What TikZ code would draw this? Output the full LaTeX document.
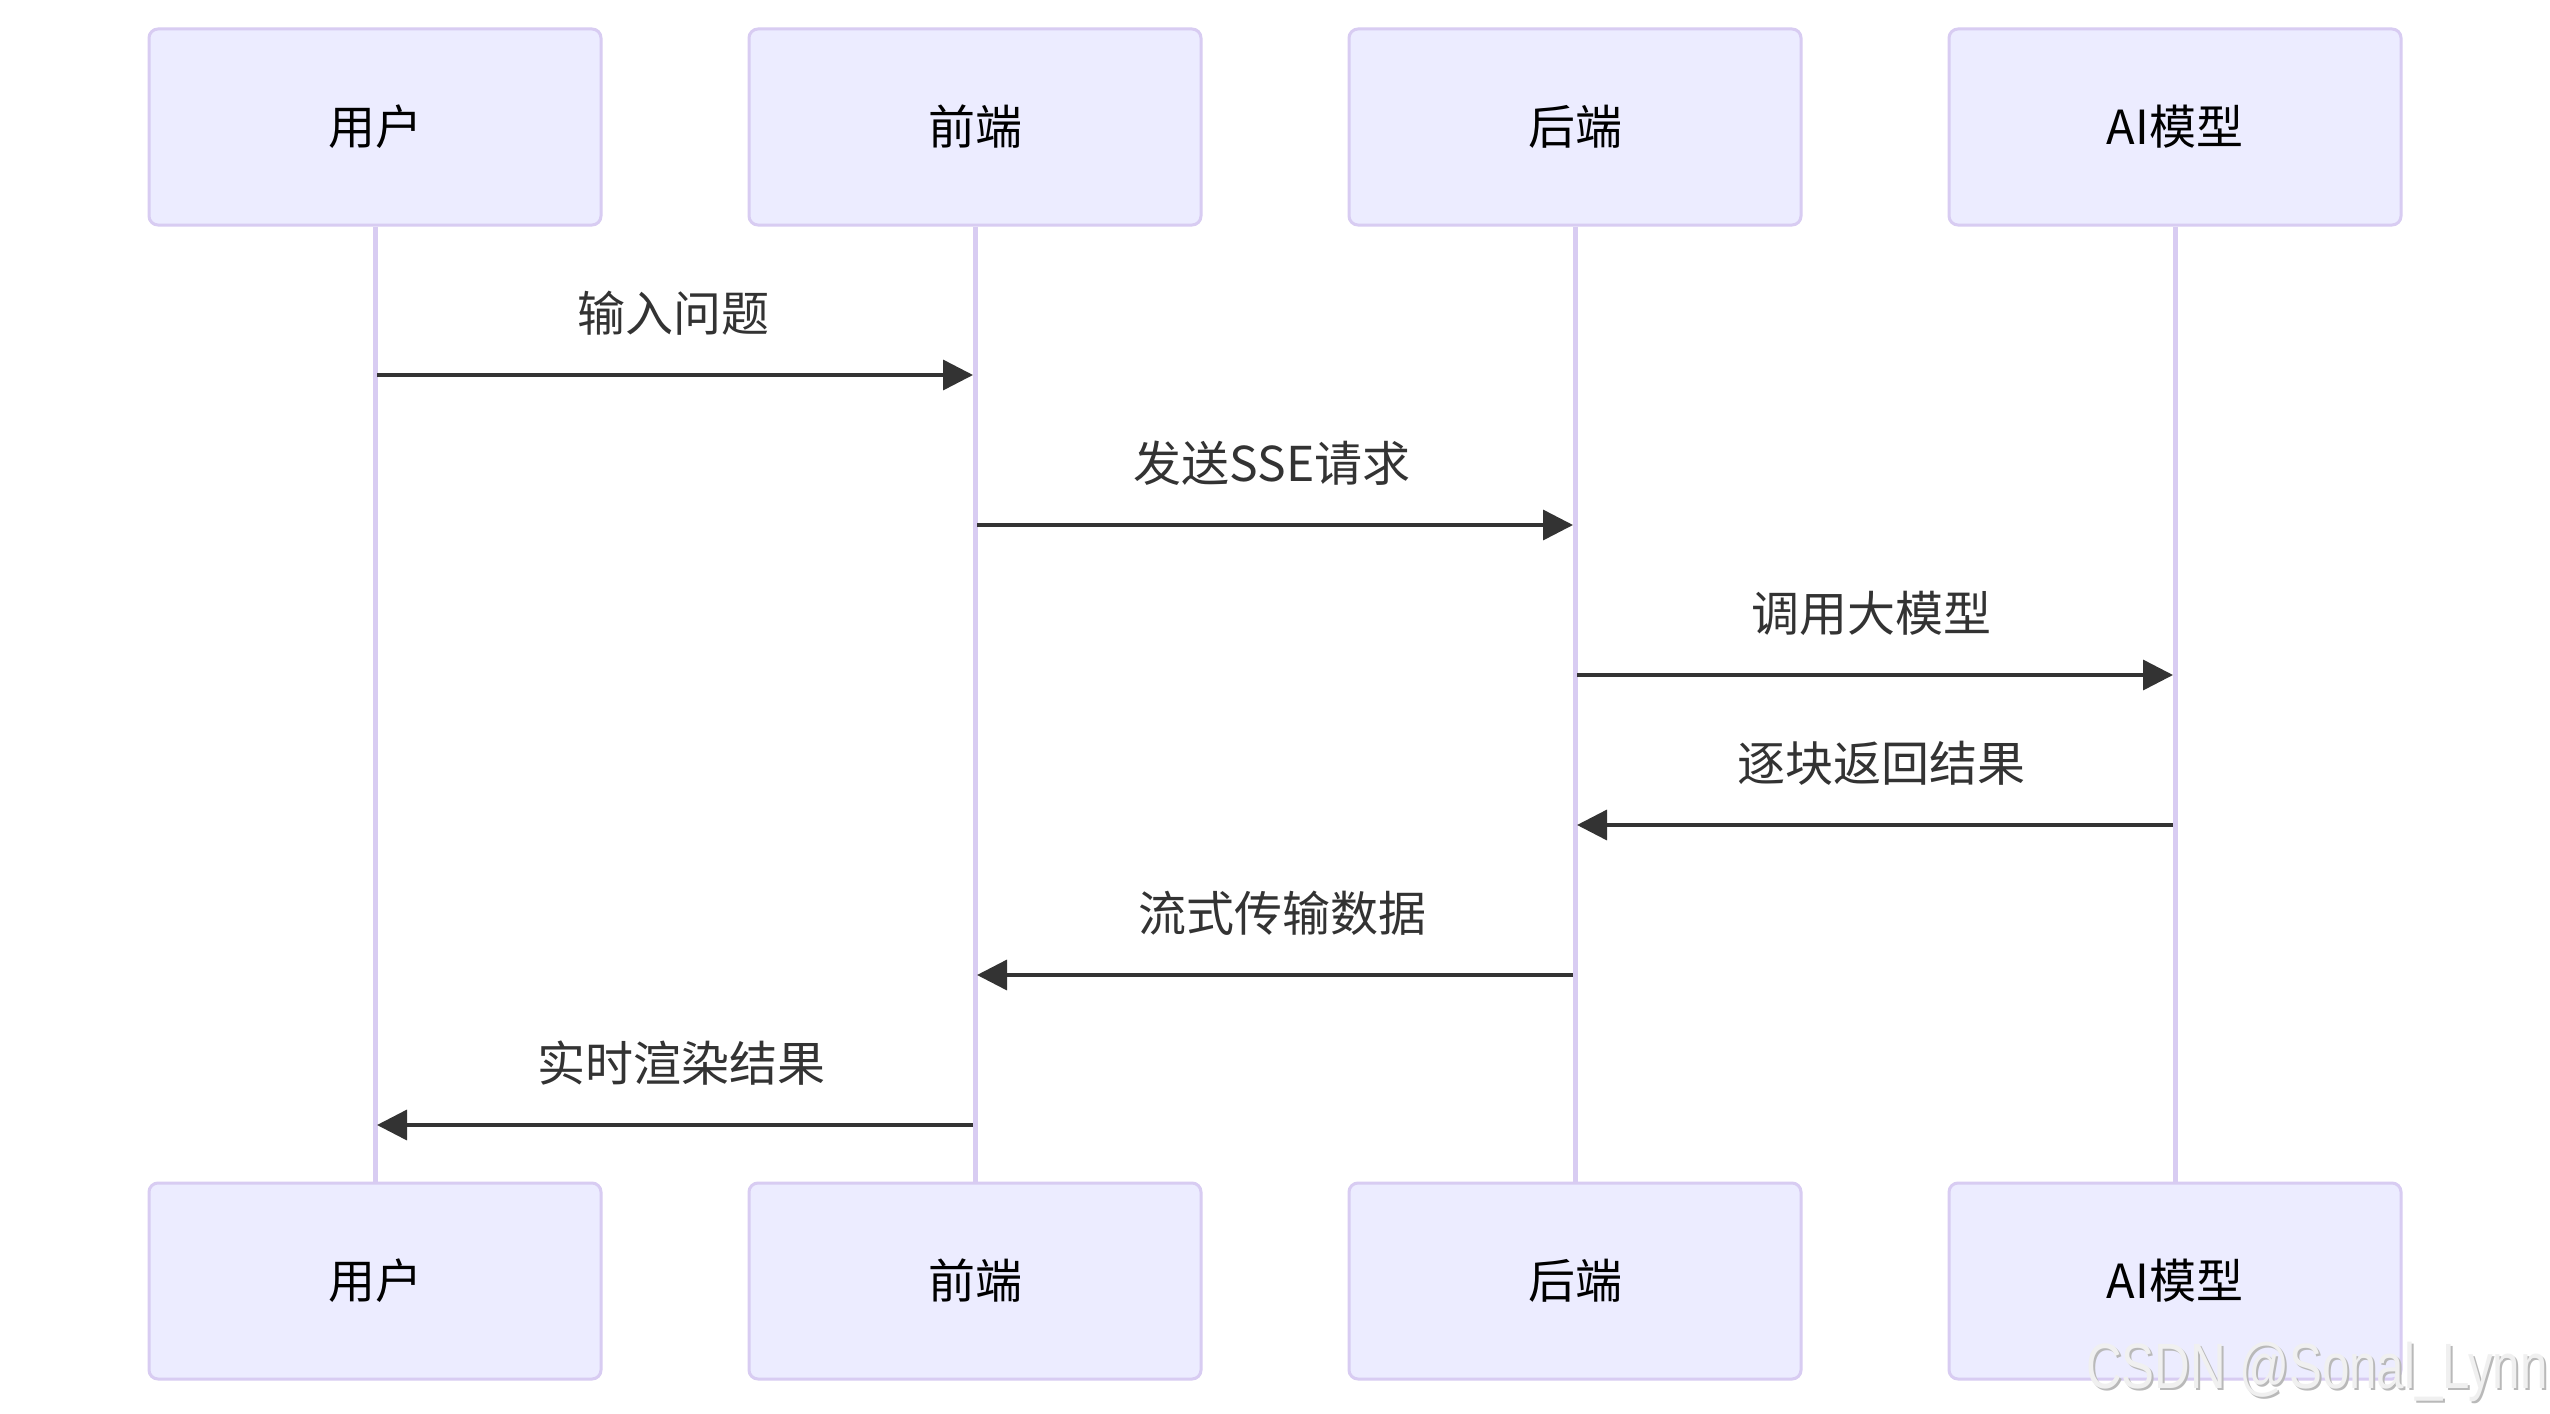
\documentclass[tikz,border=0pt]{standalone}
\usepackage{fontspec}
\setmainfont{Noto Sans CJK SC}
\newfontfamily\wmfont{Liberation Sans}
\usetikzlibrary{arrows.meta,calc}
\definecolor{actfill}{HTML}{ECECFF}
\definecolor{actline}{HTML}{D8CCF2}
\definecolor{msgcol}{HTML}{333333}
\begin{document}
\begin{tikzpicture}[x=1pt,y=-1pt,
  actor/.style={draw=actline,fill=actfill,line width=3pt,rounded corners=9pt,
    minimum width=452pt,minimum height=196pt,inner sep=0pt,
    font=\fontsize{47}{56}\selectfont,text=black},
  lifeline/.style={draw=actline,line width=5pt},
  msgarrow/.style={draw=msgcol,line width=3.5pt,-{Triangle[length=30pt,width=30pt]},shorten <=2pt,shorten >=2pt},
  msglabel/.style={font=\fontsize{48}{57}\selectfont,text=msgcol,inner sep=0pt}]
\useasboundingbox (0,0) rectangle (2550,1413);
\fill[white] (0,0) rectangle (2550,1413);
% top actors
\node[actor] (u1) at (375,127) {用户};
\node[actor] (f1) at (975,127) {前端};
\node[actor] (b1) at (1575,127) {后端};
\node[actor] (a1) at (2175,127) {AI模型};
% bottom actors
\node[actor] (u2) at (375,1281) {用户};
\node[actor] (f2) at (975,1281) {前端};
\node[actor] (b2) at (1575,1281) {后端};
\node[actor] (a2) at (2175,1281) {AI模型};
% lifelines
\draw[lifeline] (u1.south) -- (u2.north);
\draw[lifeline] (f1.south) -- (f2.north);
\draw[lifeline] (b1.south) -- (b2.north);
\draw[lifeline] (a1.south) -- (a2.north);
% message rows
\coordinate (r1) at (0,375);
\coordinate (r2) at (0,525);
\coordinate (r3) at (0,675);
\coordinate (r4) at (0,825);
\coordinate (r5) at (0,975);
\coordinate (r6) at (0,1125);
\draw[msgarrow] (u1.south |- r1) -- (f1.south |- r1);
\draw[msgarrow] (f1.south |- r2) -- (b1.south |- r2);
\draw[msgarrow] (b1.south |- r3) -- (a1.south |- r3);
\draw[msgarrow] (a1.south |- r4) -- (b1.south |- r4);
\draw[msgarrow] (b1.south |- r5) -- (f1.south |- r5);
\draw[msgarrow] (f1.south |- r6) -- (u1.south |- r6);
\node[msglabel] (l1) at ($(u1.south |- r1)!0.5!(f1.south |- r1)+(-2,-62)$) {输入问题};
\node[msglabel] (l2) at ($(f1.south |- r2)!0.5!(b1.south |- r2)+(-3,-62)$) {发送SSE请求};
\node[msglabel] (l3) at ($(b1.south |- r3)!0.5!(a1.south |- r3)+(-4,-62)$) {调用大模型};
\node[msglabel] (l4) at ($(b1.south |- r4)!0.5!(a1.south |- r4)+(6,-62)$) {逐块返回结果};
\node[msglabel] (l5) at ($(f1.south |- r5)!0.5!(b1.south |- r5)+(7,-62)$) {流式传输数据};
\node[msglabel] (l6) at ($(u1.south |- r6)!0.5!(f1.south |- r6)+(6,-62)$) {实时渲染结果};
% watermark
\node[inner sep=0pt,anchor=east,text=gray!55,font=\wmfont\fontsize{64}{74}\selectfont,xscale=0.77] (wms) at (2550,1374) {CSDN @Sonal\_Lynn};
\node[inner sep=0pt,anchor=east,text=white!88!gray,font=\wmfont\fontsize{64}{74}\selectfont,xscale=0.77] (wm) at (2548,1372) {CSDN @Sonal\_Lynn};
\end{tikzpicture}
\end{document}
